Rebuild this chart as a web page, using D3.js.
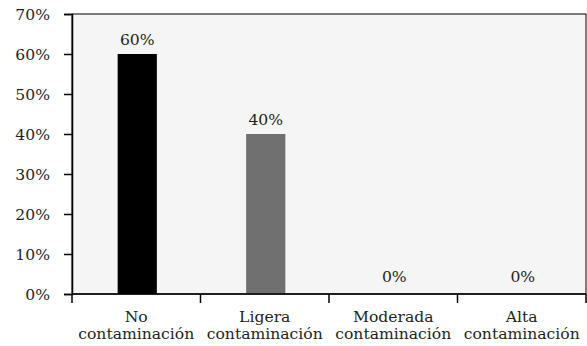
<!DOCTYPE html>
<html><head><meta charset="utf-8">
<script src="https://cdn.jsdelivr.net/npm/d3@7"></script>
<style>body{margin:0;background:#fff}svg{display:block}text{font-family:"DejaVu Serif",serif;fill:#231f20}</style>
</head><body><svg id="c" width="587" height="346"></svg>
<script>
const categories = [["No","contaminación"],["Ligera","contaminación"],["Moderada","contaminación"],["Alta","contaminación"]];
const values = [60, 40, 0, 0];
const colors = ["#000000", "#707070", "#707070", "#707070"];
const yTicks = [0,10,20,30,40,50,60,70];
const FS = 15.6;

const svg = d3.select("#c");
const m = {l:72, r:1, t:14, b:52};
const W = 587, H = 346;
const x = d3.scaleBand().domain(d3.range(categories.length)).range([m.l, W-m.r]).paddingInner(0).paddingOuter(0);
const y = d3.scaleLinear().domain([0,70]).range([H-m.b, m.t]);

svg.append("rect").attr("x", m.l).attr("y", m.t).attr("width", W-m.r-m.l).attr("height", H-m.b-m.t)
  .attr("fill", "#f5f5f5").attr("stroke", "#000").attr("stroke-width", 1);

const bw = x.bandwidth()*0.305;
svg.selectAll("rect.bar").data(values).enter().append("rect").attr("class","bar")
  .attr("x", (d,i)=>x(i)+x.bandwidth()/2-bw/2+1).attr("width", bw)
  .attr("y", d=>y(d)).attr("height", d=>y(0)-y(d)).attr("fill", (d,i)=>colors[i]);

svg.selectAll("text.val").data(values).enter().append("text").attr("class","val")
  .attr("x", (d,i)=>x(i)+x.bandwidth()/2+1).attr("y", d=>y(d)-(d===0?12:9))
  .attr("text-anchor","middle").attr("font-size",FS).text(d=>d+"%");

const ya = svg.append("g").attr("transform",`translate(${m.l},0)`)
  .call(d3.axisLeft(y).tickValues(yTicks).tickFormat(d=>d+"%").tickSize(8).tickPadding(14));
ya.select(".domain").attr("stroke","#000").attr("stroke-width",1.5);
ya.selectAll(".tick line").attr("stroke","#000").attr("stroke-width",1.5);
ya.selectAll(".tick text").attr("font-size",FS).attr("font-family","DejaVu Serif").attr("fill","#231f20");

const xa = svg.append("g").attr("transform",`translate(0,${H-m.b})`);
xa.append("line").attr("x1",m.l).attr("x2",W-m.r).attr("stroke","#000").attr("stroke-width",1.5);
const edges = d3.range(categories.length+1).map(i=> i<categories.length ? x(i) : x(i-1)+x.bandwidth());
xa.selectAll("line.tk").data(edges).enter().append("line").attr("class","tk")
  .attr("x1",d=>d).attr("x2",d=>d).attr("y1",0).attr("y2",9).attr("stroke","#000").attr("stroke-width",1.5);
const lab = xa.selectAll("text.cat").data(categories).enter().append("text").attr("class","cat")
  .attr("text-anchor","middle").attr("font-size",FS);
lab.each(function(d,i){
  const t = d3.select(this);
  d.forEach((s,j)=>t.append("tspan").attr("x", x(i)+x.bandwidth()/2).attr("y", 28+j*17).text(s));
});
</script></body></html>
